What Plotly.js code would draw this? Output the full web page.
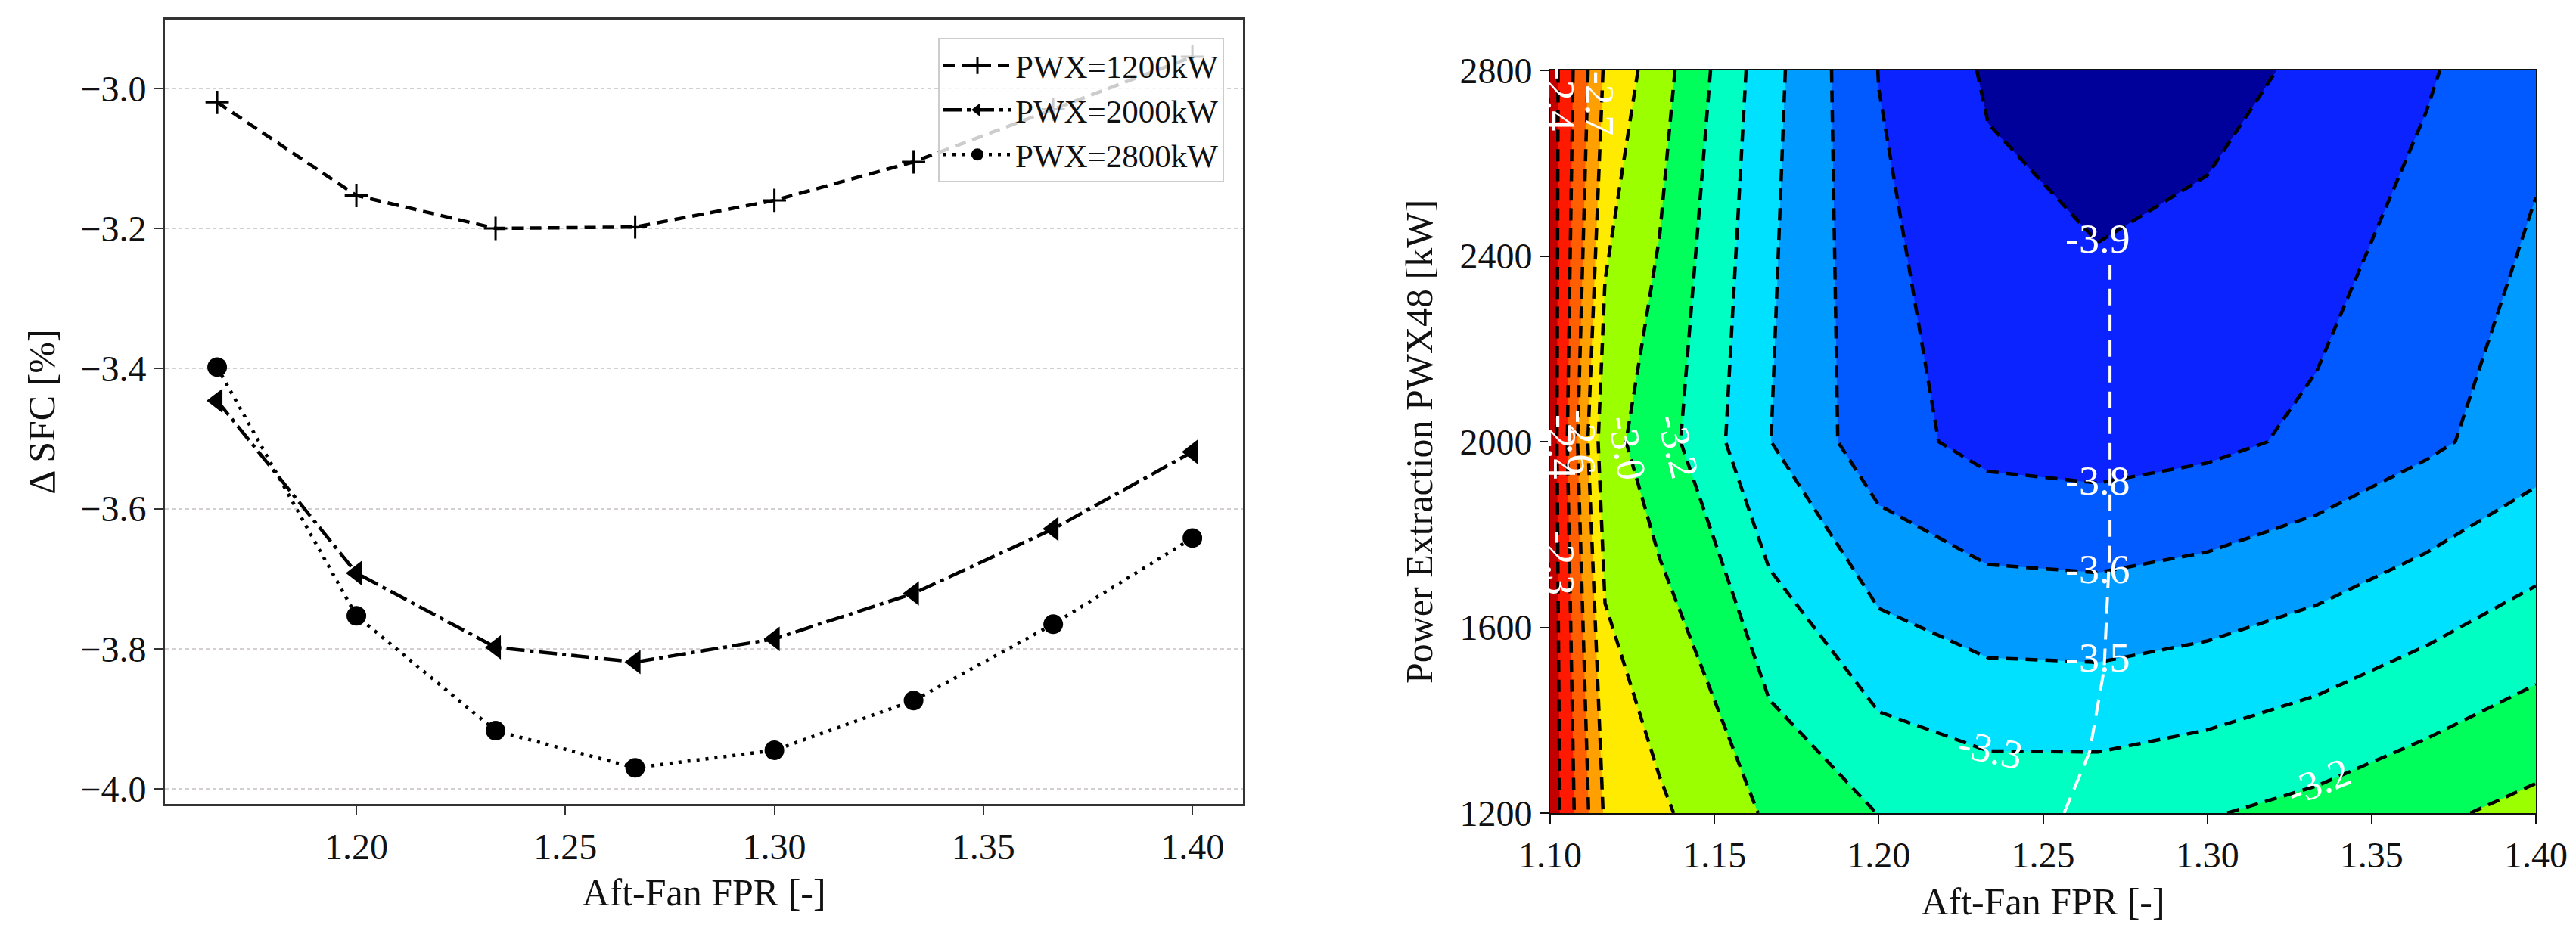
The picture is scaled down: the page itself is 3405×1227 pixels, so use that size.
<!DOCTYPE html>
<html>
<head>
<meta charset="utf-8">
<script src="https://cdn.plot.ly/plotly-3.0.1.min.js"></script>
<style>html,body{margin:0;padding:0;background:#fff;}#chart{width:3405px;height:1227px;}</style>
</head>
<body>
<div id="chart"></div>
<script>
// ---- data ----
const FPR = [1.1667, 1.2000, 1.2333, 1.2667, 1.3000, 1.3333, 1.3667, 1.4000];
const SFC_1200 = [-3.020, -3.153, -3.200, -3.198, -3.160, -3.105, -3.030, -2.955];
const SFC_2000 = [-3.446, -3.692, -3.798, -3.819, -3.786, -3.721, -3.629, -3.519];
const SFC_2800 = [-3.398, -3.753, -3.917, -3.970, -3.945, -3.874, -3.765, -3.642];
const SERIES_NAMES = ['PWX=1200kW', 'PWX=2000kW', 'PWX=2800kW'];

// contour map: rows of power extraction, extra low-FPR columns only on the map
const PWX = [1200, 2000, 2800];
const FPR_LOW = [1.1000, 1.1167, 1.1333];
const SFC_LOW_1200 = [-2.15, -2.72, -2.825];
const SFC_LOW_2000 = [-2.15, -2.95, -3.08];
const SFC_LOW_2800 = [-2.17, -2.72, -2.935];

// white dashed optimum line
const OPT_FPR = [1.2564, 1.2642, 1.2686, 1.2704, 1.2704];
const OPT_PWX = [1200, 1332, 1510, 1785, 2380];

const X_TICKS_LEFT = [1.20, 1.25, 1.30, 1.35, 1.40];
const X_TICKS_RIGHT = [1.10, 1.15, 1.20, 1.25, 1.30, 1.35, 1.40];
const Y_TICKS_RIGHT = [1200, 1600, 2000, 2400, 2800];

const BAND_COLORS = ['rgb(0,0,155)', 'rgb(10,35,255)', 'rgb(0,90,255)', 'rgb(0,155,255)',
  'rgb(0,225,255)', 'rgb(0,255,195)', 'rgb(0,255,90)', 'rgb(155,255,0)', 'rgb(255,235,0)',
  'rgb(255,160,0)', 'rgb(255,95,0)', 'rgb(255,25,0)', 'rgb(195,0,0)'];

// ---- build ----
const FONT = 'Liberation Serif, Times New Roman, serif';
const W = 3405, H = 1227;

const gridX = FPR_LOW.concat(FPR);
const gridZ = [SFC_LOW_1200.concat(SFC_1200), SFC_LOW_2000.concat(SFC_2000), SFC_LOW_2800.concat(SFC_2800)];
const cscale = BAND_COLORS.map((c, i) => [i / (BAND_COLORS.length - 1), c]);

const traces = [
  {x: FPR, y: SFC_1200, name: SERIES_NAMES[0], type: 'scatter', mode: 'lines+markers', xaxis: 'x', yaxis: 'y',
   line: {color: 'black', width: 4.5, dash: '15px,9px'},
   marker: {symbol: 'cross-thin', size: 22, color: 'black', line: {width: 3, color: 'black'}}},
  {x: FPR, y: SFC_2000, name: SERIES_NAMES[1], type: 'scatter', mode: 'lines+markers', xaxis: 'x', yaxis: 'y',
   line: {color: 'black', width: 4.5, dash: '24px,7px,5px,7px'},
   marker: {symbol: 'triangle-left', size: 28, color: 'black'}},
  {x: FPR, y: SFC_2800, name: SERIES_NAMES[2], type: 'scatter', mode: 'lines+markers', xaxis: 'x', yaxis: 'y',
   line: {color: 'black', width: 4.5, dash: '4px,8px'},
   marker: {symbol: 'circle', size: 26, color: 'black'}},
  {x: gridX, y: PWX, z: gridZ, type: 'contour', xaxis: 'x2', yaxis: 'y2', showscale: false, showlegend: false,
   hoverinfo: 'skip', colorscale: cscale, autocontour: false,
   contours: {start: -3.9, end: -2.25, size: 0.15, coloring: 'fill', showlines: true},
   line: {color: 'black', width: 4.5, dash: '16px,10px', smoothing: 0}},
  {x: OPT_FPR, y: OPT_PWX, type: 'scatter', mode: 'lines', xaxis: 'x2', yaxis: 'y2', showlegend: false,
   hoverinfo: 'skip', line: {color: 'white', width: 4, dash: '22px,12px'}}
];

const tickFont = {family: FONT, size: 48, color: '#111'};
const titleFont = {family: FONT, size: 50, color: '#111'};

function lbl(text, x, y, angle) {
  return {text: text, x: x, y: y, xref: 'x2', yref: 'y2', showarrow: false, textangle: angle || 0,
          font: {family: FONT, size: 54, color: 'white'}};
}

const layout = {
  width: W, height: H,
  margin: {l: 0, r: 0, t: 0, b: 0},
  paper_bgcolor: 'white', plot_bgcolor: 'white',
  showlegend: true,
  legend: {x: 1618 / W, y: 1 - 50 / H, xanchor: 'right', yanchor: 'top',
           bgcolor: 'rgba(255,255,255,0.8)', bordercolor: '#cccccc', borderwidth: 2,
           font: {family: FONT, size: 43, color: '#111'}, itemwidth: 90},
  xaxis: {domain: [218 / W, 1643 / W], range: [1.1542, 1.4121], tickvals: X_TICKS_LEFT, tickformat: '.2f',
          ticks: 'outside', ticklen: 12, tickwidth: 2, tickcolor: '#333', showline: true, mirror: true,
          linecolor: '#333', linewidth: 3, showgrid: false, zeroline: false, anchor: 'y', tickfont: tickFont,
          title: {text: 'Aft-Fan FPR [-]', font: titleFont, standoff: 18}},
  yaxis: {domain: [1 - 1063 / H, 1 - 26 / H], range: [-4.0216, -2.902], dtick: 0.2, tick0: 0, tickformat: '.1f',
          ticks: 'outside', ticklen: 12, tickwidth: 2, tickcolor: '#333', showline: true, mirror: true,
          linecolor: '#333', linewidth: 3, showgrid: true, gridcolor: '#d4d0d0', gridwidth: 2, griddash: '5px,4px',
          zeroline: false, anchor: 'x', tickfont: tickFont,
          title: {text: 'Δ SFC [%]', font: titleFont, standoff: 18}},
  xaxis2: {domain: [2049 / W, 3352 / W], range: [1.10, 1.40], tickvals: X_TICKS_RIGHT, tickformat: '.2f',
           ticks: 'outside', ticklen: 12, tickwidth: 2, tickcolor: '#111', showline: true, mirror: true,
           linecolor: '#111', linewidth: 2, showgrid: false, zeroline: false, anchor: 'y2', tickfont: tickFont,
           title: {text: 'Aft-Fan FPR [-]', font: titleFont, standoff: 18}},
  yaxis2: {domain: [1 - 1075 / H, 1 - 93 / H], range: [1200, 2800], tickvals: Y_TICKS_RIGHT,
           ticks: 'outside', ticklen: 12, tickwidth: 2, tickcolor: '#111', showline: true, mirror: true,
           linecolor: '#111', linewidth: 2, showgrid: false, zeroline: false, anchor: 'x2', tickfont: tickFont,
           title: {text: 'Power Extraction PWX48 [kW]', font: titleFont, standoff: 20}},
  annotations: [
    lbl('-3.9', 1.2665, 2437), lbl('-3.8', 1.2665, 1915), lbl('-3.6', 1.2665, 1725),
    lbl('-3.5', 1.2665, 1534), lbl('-3.3', 1.2339, 1337, 12), lbl('-3.2', 1.3338, 1266, -22),
    lbl('-3.0', 1.1234, 1987, 80), lbl('-3.2', 1.1389, 1990, 76),
    lbl('-2.4', 1.1035, 1990, 90), lbl('-2.6', 1.1095, 2000, 90), lbl('-2.3', 1.1030, 1740, 90),
    lbl('-2.4', 1.1030, 2740, 90), lbl('-2.7', 1.1150, 2730, 90)
  ]
};

Plotly.newPlot('chart', traces, layout, {staticPlot: true, displayModeBar: false});
</script>
</body>
</html>
